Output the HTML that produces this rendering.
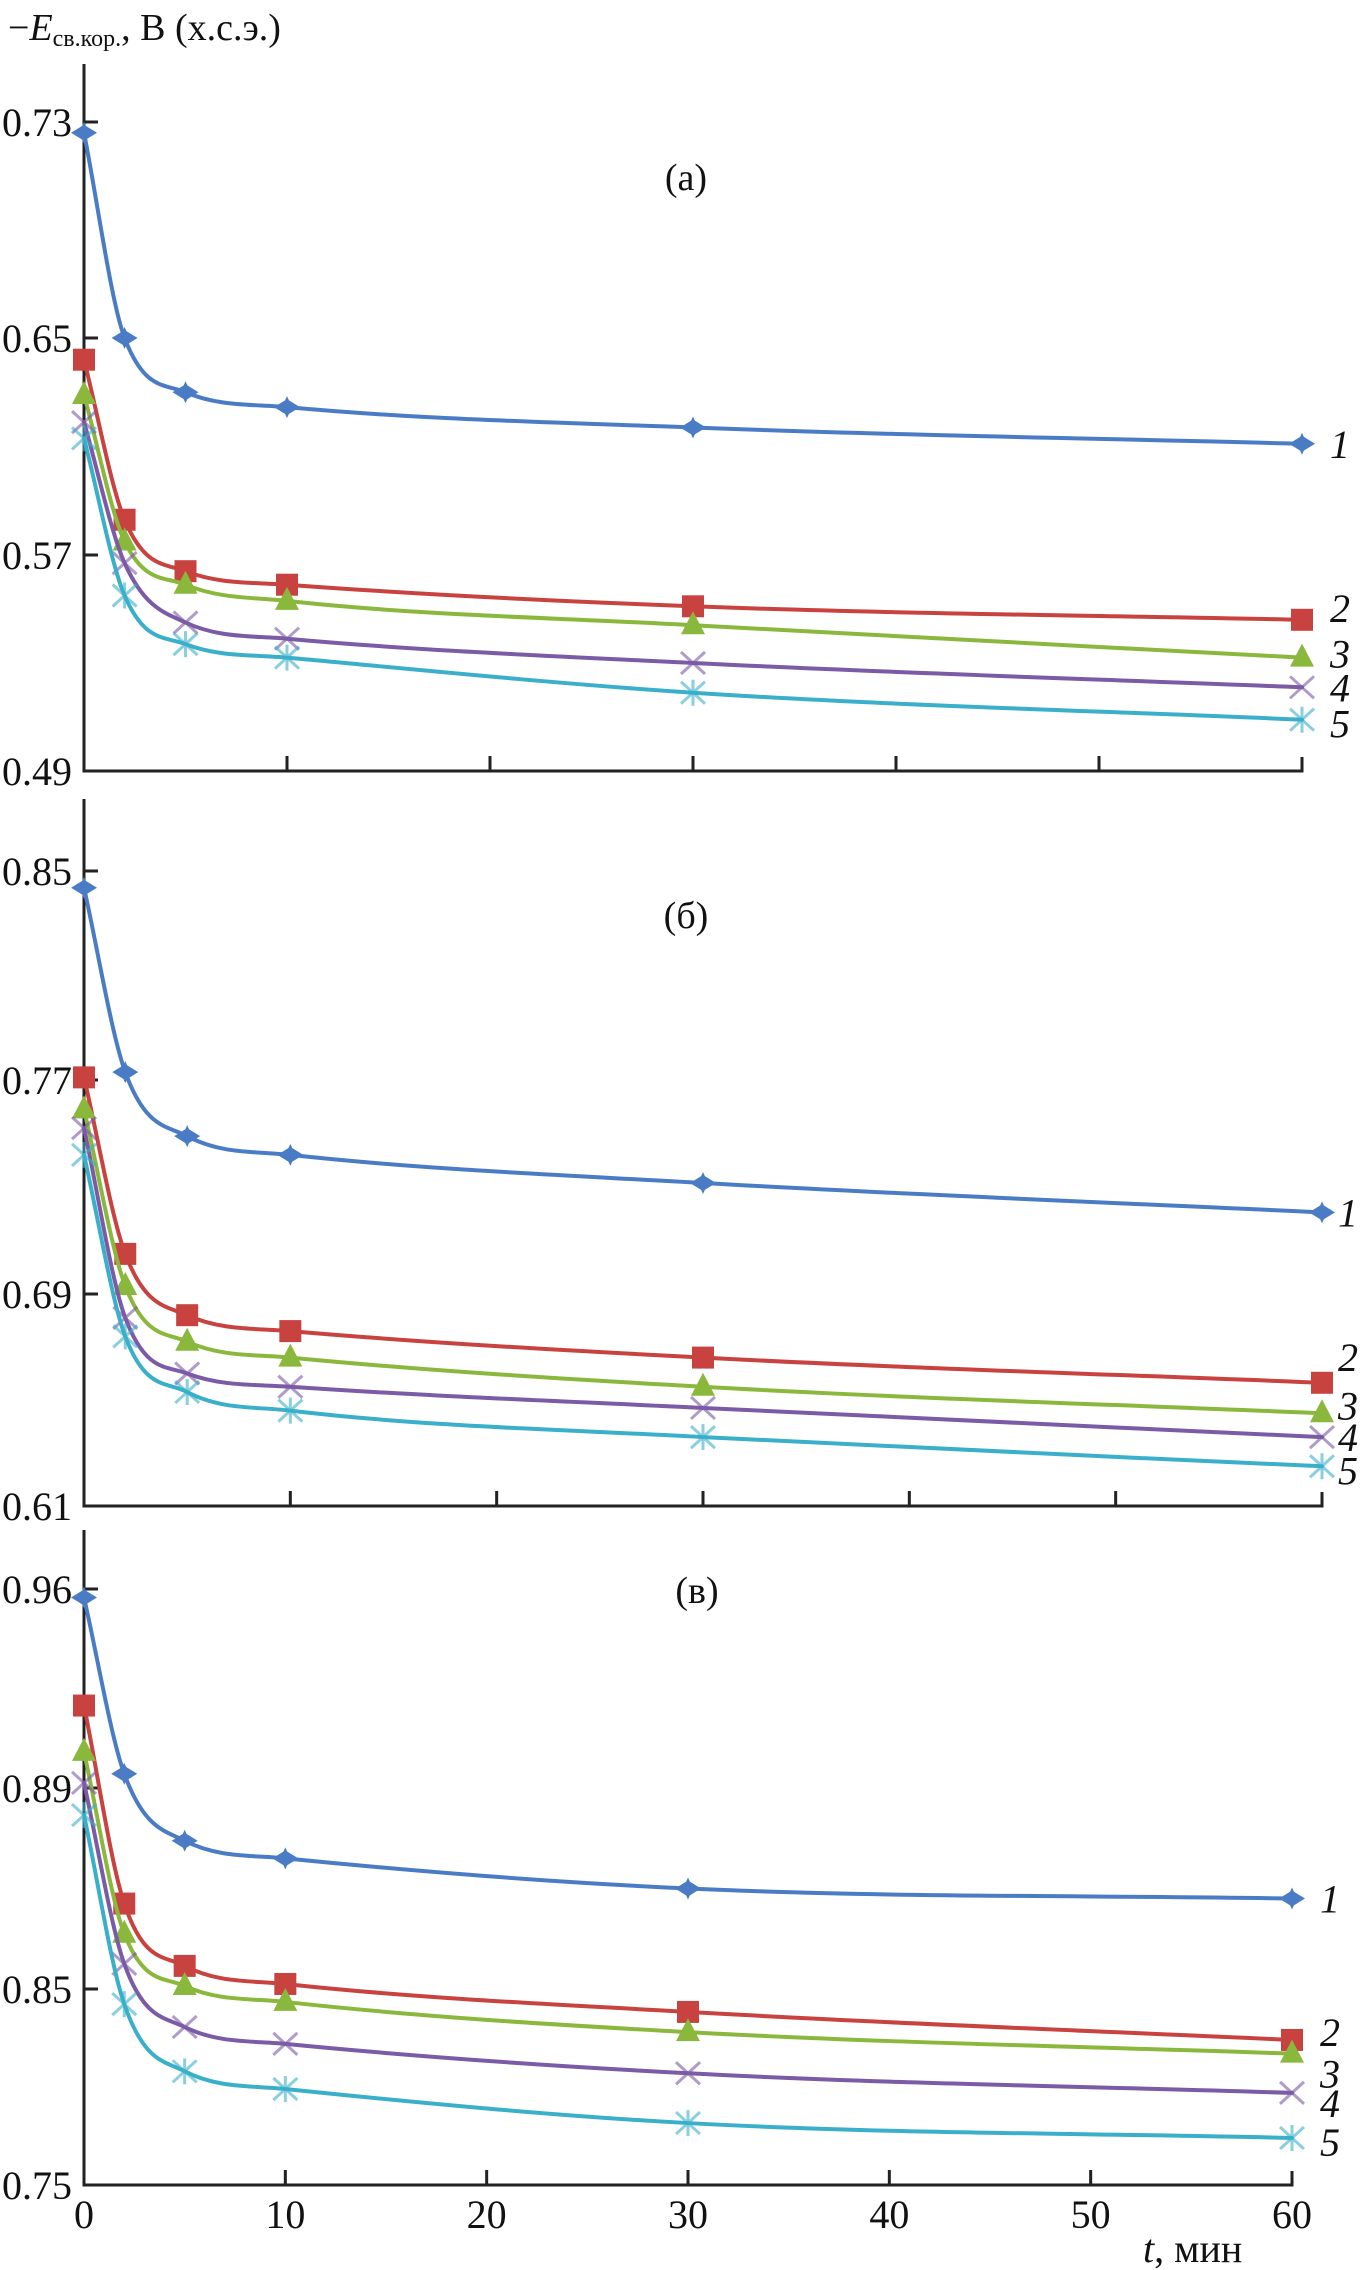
<!DOCTYPE html>
<html><head><meta charset="utf-8">
<style>
html,body{margin:0;padding:0;background:#fff;}
svg{display:block;font-family:"Liberation Serif","DejaVu Serif",serif;}
</style></head>
<body>
<svg id="chart" width="1363" height="2270" viewBox="0 0 1363 2270" xmlns="http://www.w3.org/2000/svg">
<text x="8" y="40" font-size="38" fill="#111">−<tspan font-style="italic">E</tspan><tspan font-size="24" dy="6">св.кор.</tspan><tspan dy="-6">, В (х.с.э.)</tspan></text>
<g id="plots"></g>
</svg>
<script>
// shared data
const times = [0, 2, 5, 10, 30, 60];
const xTicks = [0, 10, 20, 30, 40, 50, 60];
const seriesNames = ['1', '2', '3', '4', '5'];

// panel (a)
const aTickLabels = ['0.73', '0.65', '0.57', '0.49'];
const aTickValues = [0.73, 0.65, 0.57, 0.49];
const aS1 = [0.726, 0.650, 0.630, 0.6245, 0.617, 0.611];
const aS2 = [0.642, 0.583, 0.564, 0.559, 0.551, 0.546];
const aS3 = [0.629, 0.575, 0.559, 0.553, 0.544, 0.532];
const aS4 = [0.619, 0.567, 0.545, 0.539, 0.530, 0.521];
const aS5 = [0.613, 0.555, 0.537, 0.532, 0.519, 0.509];

// panel (б)
const bTickLabels = ['0.85', '0.77', '0.69', '0.61'];
const bTickValues = [0.85, 0.77, 0.69, 0.61];
const bS1 = [0.8436, 0.773, 0.749, 0.742, 0.7315, 0.7205];
const bS2 = [0.771, 0.705, 0.682, 0.676, 0.666, 0.6565];
const bS3 = [0.759, 0.693, 0.672, 0.666, 0.655, 0.645];
const bS4 = [0.752, 0.681, 0.660, 0.655, 0.647, 0.636];
const bS5 = [0.742, 0.674, 0.653, 0.646, 0.636, 0.625];

// panel (в)
const cTickLabels = ['0.96', '0.89', '0.85', '0.75'];
const cTickValues = [0.96, 0.89, 0.85, 0.75];
const cS1 = [0.957, 0.895, 0.8795, 0.876, 0.870, 0.868];
const cS2 = [0.919, 0.867, 0.8546, 0.851, 0.8383, 0.824];
const cS3 = [0.9027, 0.861, 0.8506, 0.8434, 0.828, 0.817];
const cS4 = [0.8918, 0.855, 0.8306, 0.822, 0.807, 0.797];
const cS5 = [0.8846, 0.8423, 0.808, 0.799, 0.7816, 0.774];

const NS = 'http://www.w3.org/2000/svg';
const colors = ['#4a7cc6', '#c8423f', '#8ab83c', '#7b5aa6', '#3aafca'];
const root = document.getElementById('plots');

function mk(tag, attrs, parent) {
  const e = document.createElementNS(NS, tag);
  for (const k in attrs) e.setAttribute(k, attrs[k]);
  (parent || root).appendChild(e);
  return e;
}

function monotonePath(pts) {
  const n = pts.length, d = [], m = [];
  for (let i = 0; i < n - 1; i++) d.push((pts[i+1][1] - pts[i][1]) / (pts[i+1][0] - pts[i][0]));
  m[0] = d[0]; m[n-1] = d[n-2];
  for (let i = 1; i < n - 1; i++) m[i] = (d[i-1] * d[i] <= 0) ? 0 : (d[i-1] + d[i]) / 2;
  for (let i = 0; i < n - 1; i++) {
    if (d[i] === 0) { m[i] = 0; m[i+1] = 0; continue; }
    const a = m[i] / d[i], b = m[i+1] / d[i], s = a*a + b*b;
    if (s > 9) { const t = 3 / Math.sqrt(s); m[i] = t*a*d[i]; m[i+1] = t*b*d[i]; }
  }
  let p = 'M' + pts[0][0] + ',' + pts[0][1];
  for (let i = 0; i < n - 1; i++) {
    const h = (pts[i+1][0] - pts[i][0]) / 3;
    p += ' C' + (pts[i][0] + h) + ',' + (pts[i][1] + m[i]*h) + ' ' + (pts[i+1][0] - h) + ',' + (pts[i+1][1] - m[i+1]*h) + ' ' + pts[i+1][0] + ',' + pts[i+1][1];
  }
  return p;
}

function marker(g, k, x, y, c) {
  if (k === 0) {
    const m = mk('path', {d: `M${x-13},${y} L${x},${y-8} L${x+13},${y} L${x},${y+8}Z M${x},${y-11} L${x+5},${y} L${x},${y+11} L${x-5},${y}Z`, fill: c}, g);
    
    
  } else if (k === 1) {
    const m = mk('rect', {x: x-11, y: y-11, width: 22, height: 22, fill: c}, g);
    
    
  } else if (k === 2) {
    const m = mk('path', {d: `M${x},${y-14} L${x+12},${y+9} L${x-12},${y+9}Z`, fill: c}, g);
    
    
  } else if (k === 3) {
    const m = mk('path', {d: `M${x-12},${y-11} L${x+12},${y+11} M${x+12},${y-11} L${x-12},${y+11}`, stroke: c, 'stroke-width': 3, 'stroke-opacity': 0.6, fill: 'none'}, g);
    
    
  } else {
    const m = mk('path', {d: `M${x-12},${y-11} L${x+12},${y+11} M${x+12},${y-11} L${x-12},${y+11} M${x},${y-13} L${x},${y+13}`, stroke: c, 'stroke-width': 3, 'stroke-opacity': 0.6, fill: 'none'}, g);
    
    
  }
}

function panel(cfg) {
  const g = mk('g', {});
  
  
  const x0 = 84;
  const xs = t => x0 + t / 60 * (cfg.x60 - x0);
  const tv = cfg.tickValues, tp = cfg.tickPix;
  const ys = v => {
    for (let i = 0; i < tv.length - 1; i++) {
      if (v <= tv[i] && v >= tv[i+1] || i === tv.length - 2) {
        return tp[i] + (tv[i] - v) / (tv[i] - tv[i+1]) * (tp[i+1] - tp[i]);
      }
    }
  };
  const yBase = cfg.axisY;
  const ax = mk('path', {d: `M${x0},${cfg.top} L${x0},${yBase} L${cfg.x60},${yBase} L${cfg.x60},${yBase-14}`, stroke: '#222', 'stroke-width': 3, fill: 'none'}, g);
  
  
  xTicks.forEach(t => {
    if (t === 0 || t === 60) return;
    const tk = mk('line', {x1: xs(t), x2: xs(t), y1: yBase, y2: yBase - 15, stroke: '#222', 'stroke-width': 3}, g);
    
    
  });
  cfg.tickLabels.forEach((lab, i) => {
    const y = ys(tv[i]);
    if (i < tv.length - 1) {
      const tk = mk('line', {x1: x0, x2: x0 + 14, y1: y, y2: y, stroke: '#222', 'stroke-width': 3}, g);
      
      
    }
    const t = mk('text', {x: 72, y: y + 14, 'text-anchor': 'end', 'font-size': 40, fill: '#111'}, g);
    
    
    t.textContent = lab;
  });
  const title = mk('text', {x: cfg.labelX, y: cfg.labelY, 'text-anchor': 'middle', 'font-size': 38, fill: '#111'}, g);
  
  
  title.textContent = cfg.label;
  cfg.series.forEach((vals, k) => {
    const pts = vals.map((v, i) => [xs(times[i]), ys(v)]);
    const sg = mk('g', {}, g);
    
    
    const ln = mk('path', {d: monotonePath(pts), stroke: colors[k], 'stroke-width': 4, fill: 'none', 'stroke-linecap': 'round'}, sg);
    
    
    pts.forEach(p => marker(sg, k, p[0], p[1], colors[k]));
    const last = pts[pts.length - 1];
    const lt = mk('text', {x: last[0] + cfg.labelGap, y: last[1] + 14 + cfg.labelOffsets[k], 'font-size': 40, 'font-style': 'italic', fill: '#111'}, sg);
    
    
    lt.textContent = seriesNames[k];
  });
  return {xs, yBase};
}

panel({name: 'panel-a', label: '(а)', labelX: 686, labelY: 190, top: 64, axisY: 771, x60: 1302, labelGap: 28,
  tickLabels: aTickLabels, tickValues: aTickValues, tickPix: [122, 338, 555, 771],
  series: [aS1, aS2, aS3, aS4, aS5], labelOffsets: [0, -12, -4, 0, 4]});
panel({name: 'panel-b', label: '(б)', labelX: 686, labelY: 928, top: 799, axisY: 1506, x60: 1322, labelGap: 16,
  tickLabels: bTickLabels, tickValues: bTickValues, tickPix: [871, 1080, 1294, 1506],
  series: [bS1, bS2, bS3, bS4, bS5], labelOffsets: [0, -26, -8, 0, 4]});
const pc = panel({name: 'panel-c', label: '(в)', labelX: 697, labelY: 1603, top: 1530, axisY: 2185, x60: 1292, labelGap: 28,
  tickLabels: cTickLabels, tickValues: cTickValues, tickPix: [1589, 1788, 1989, 2185],
  series: [cS1, cS2, cS3, cS4, cS5], labelOffsets: [0, -8, 20, 10, 4]});

xTicks.forEach(t => {
  const lt = mk('text', {x: pc.xs(t), y: 2228, 'text-anchor': 'middle', 'font-size': 40, fill: '#111'});
  
  
  lt.textContent = t;
});
const xt = mk('text', {x: 1143, y: 2262, 'font-size': 40, fill: '#111'});


xt.innerHTML = '<tspan font-style="italic">t</tspan>, мин';
</script>
</body></html>
